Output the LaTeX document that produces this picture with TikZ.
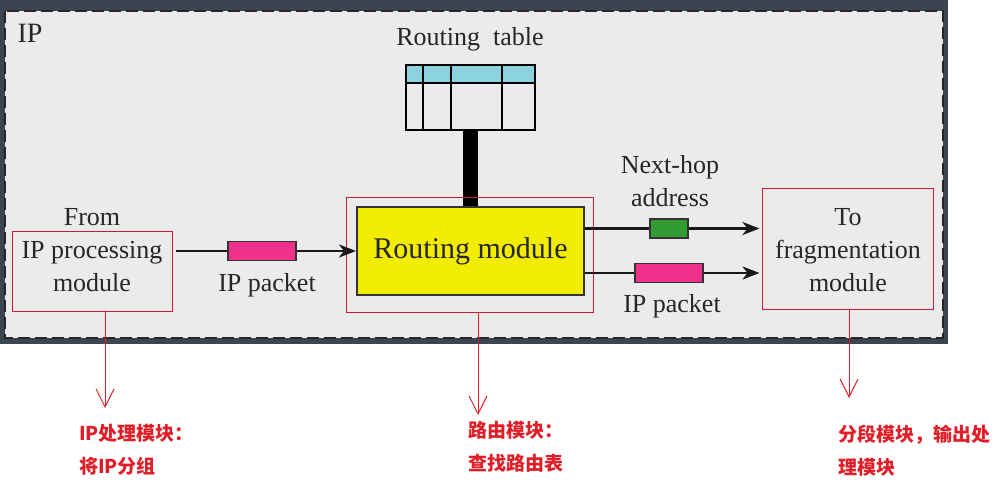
\documentclass[tikz,border=0pt]{standalone}
\usepackage{fontspec}
\setmainfont{Liberation Serif}
\newfontfamily\cjk{Noto Sans CJK SC}
\usetikzlibrary{arrows.meta}
\usetikzlibrary{positioning}

\begin{document}
\begin{tikzpicture}[x=1pt,y=-1pt,>={Stealth[length=17pt,width=13pt,inset=5pt]},
	red box/.style={draw=boxred,line width=1pt,inner sep=0pt},
	packet/.style={draw=black!80,line width=1.5pt,inner sep=0pt,minimum height=19pt},
	label text/.style={font=\fontsize{26}{33}\selectfont,align=center,text=black!85},
	note/.style={font=\cjk\bfseries\fontsize{19}{33}\selectfont,text=notered,align=left,anchor=north west,inner sep=0pt},
	note arrow/.style={draw=notered,line width=1pt,-{Straight Barb[length=18pt,width=18pt]}}]
	
	\definecolor{frame}{RGB}{60,68,82}
	\definecolor{panel}{RGB}{235,235,235}
	\definecolor{headblue}{RGB}{140,210,225}
	\definecolor{modyellow}{RGB}{242,236,0}
	\definecolor{pktpink}{RGB}{240,50,140}
	\definecolor{nhgreen}{RGB}{50,155,50}
	\definecolor{boxred}{RGB}{210,20,60}
	\definecolor{notered}{RGB}{225,30,40}
	
	% background panel
	\useasboundingbox (0,0) rectangle (1002,489);
	\fill[frame] (0,0) rectangle (948,344);
	\fill[panel] (5,11) rectangle (943,338);
	\draw[black!85,line width=2.5pt,dash pattern=on 12pt off 5pt] (5,11) rectangle (943,338);
	\node[anchor=west,font=\fontsize{28}{28}\selectfont,text=black!85] (ip) at (14,33) {IP};
	
	% routing table
	\node[label text] (rtt) at (470,39) {Routing\ \ table};
	\fill[headblue] (406,65) rectangle (535,83);
	\node[draw,line width=2pt,minimum width=129pt,minimum height=65pt,inner sep=0pt] (rt) at (470.5,97.5) {};
	\draw[line width=2pt] (406,83) -- (535,83)
		(423,65) -- (423,130) (451,65) -- (451,130) (502,65) -- (502,130);
	
	\node[draw=black!80,line width=2pt,fill=modyellow,minimum width=227pt,minimum height=88pt,
		font=\fontsize{30}{30}\selectfont,text=black!85] (rm) at (470.5,251) {Routing module};
	\draw[line width=15pt] (rt.south) -- (rm.north);
	\node[red box,minimum width=247pt,minimum height=115pt] (rmbox) at (469.5,255.5) {};
	
	% input side
	\node[label text] (src) at (92,250.5) {From\\IP processing\\module};
	\node[red box,minimum width=160pt,minimum height=80pt] (srcbox) at (92,272) {};
	\node[packet,fill=pktpink,minimum width=68pt] (p1) at (262,251) {};
	\node[label text] (p1l) at (267,285) {IP packet};
	
	% output side
	\node[packet,fill=nhgreen,minimum width=38pt] (nh) at (669,228.5) {};
	\node[packet,fill=pktpink,minimum width=68pt] (p2) at (669,273) {};
	\node[label text] (nhl) at (670,181) {Next-hop\\address};
	\node[label text] (p2l) at (672,306) {IP packet};
	\node[label text] (dst) at (848,250) {To\\fragmentation\\module};
	\node[red box,minimum width=171pt,minimum height=121pt] (dstbox) at (847.5,249.5) {};
	
	\path[line width=2.5pt,draw=black!90]
	([xshift=3pt]srcbox.east |- p1) edge (p1.west)
	(p1.east) edge[->] (rm.west)
	(rm.east |- nh) edge (nh.west)
	(nh.east) edge[->] ([xshift=-2pt]nh.east -| dstbox.west)
	(rm.east |- p2) edge (p2.west)
	(p2.east) edge[->] ([xshift=-2pt]p2.east -| dstbox.west);
	
	% notes
	\coordinate (t1) at (105,408);
	\coordinate (t2) at (478,415);
	\coordinate (t3) at (849,398);
	\draw[note arrow] (srcbox.south -| t1) -- (t1);
	\draw[note arrow] (rmbox.south -| t2) -- (t2);
	\draw[note arrow] (dstbox.south -| t3) -- (t3);
	\node[note] (n1) at (79,424) {IP处理模块：\\将IP分组};
	\node[note] (n2) at (468,421) {路由模块：\\查找路由表};
	\node[note] (n3) at (838,425) {分段模块，输出处\\理模块};
\end{tikzpicture}
\end{document}
